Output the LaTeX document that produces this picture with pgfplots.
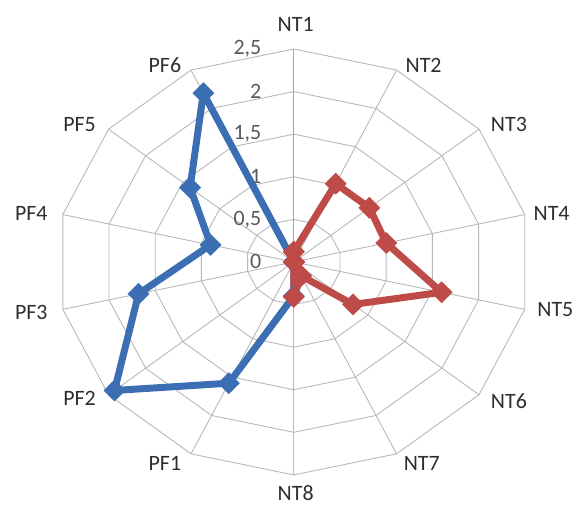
\documentclass[border=0pt]{standalone}
\usepackage{pgfplots}
\pgfplotsset{compat=1.18}
\usepackage{fontspec}
\setmainfont{Carlito}
\definecolor{serblue}{HTML}{3C6EB4}
\definecolor{serred}{HTML}{BE4B48}
\definecolor{gridc}{HTML}{B8B8B8}
\definecolor{labc}{HTML}{2E2E2E}
\newcommand{\ring}[1]{\addplot[gridc, line width=0.9pt, data cs=polar, no markers] coordinates {(90,#1) (64.2857,#1) (38.5714,#1) (12.8571,#1) (-12.8571,#1) (-38.5714,#1) (-64.2857,#1) (-90,#1) (-115.7143,#1) (-141.4286,#1) (-167.1429,#1) (167.1429,#1) (141.4286,#1) (115.7143,#1) (90,#1)};}
\begin{document}
\begin{tikzpicture}
\begin{axis}[
  scale only axis, width=580bp, height=509bp,
  xmin=-3.1, xmax=3.02, ymin=-2.9, ymax=3.075,
  hide axis, clip=false,
]
\ring{0.5}\ring{1}\ring{1.5}\ring{2}\ring{2.5}
\pgfplotsinvokeforeach{64.2857,38.5714,12.8571,-12.8571,-38.5714,-64.2857,-90,-115.7143,-141.4286,-167.1429,167.1429,141.4286,115.7143}{
  \addplot[gridc, line width=0.9pt, data cs=polar, no markers] coordinates {(#1,0) (#1,2.5)};
}
\addplot[gray!70, line width=1.4pt, data cs=polar, no markers] coordinates {(90,0) (90,2.5)};
% blue series
\addplot[serblue, line width=7pt, line join=round, data cs=polar, mark=square*, mark size=7.5pt,
  mark options={rotate=45, line width=0.5pt, fill=serblue}] coordinates {
 (90,0) (64.2857,0) (38.5714,0) (12.8571,0) (-12.8571,0) (-38.5714,0) (-64.2857,0) (-90,0.40)
 (-115.7143,1.58) (-141.4286,2.42) (-167.1429,1.68) (167.1429,0.90) (141.4286,1.40) (115.7143,2.20) (90,0)};
% red series
\addplot[serred, line width=7pt, line join=round, data cs=polar, mark=square*, mark size=7.5pt,
  mark options={rotate=45, line width=0.5pt, fill=serred}] coordinates {
 (90,0.12) (64.2857,1.02) (38.5714,1.02) (12.8571,1.00) (-12.8571,1.60) (-38.5714,0.80) (-64.2857,0.18) (-90,0.41)
 (-115.7143,0) (-141.4286,0) (-167.1429,0) (167.1429,0) (141.4286,0) (115.7143,0) (90,0.12)};
% category labels
\begin{scope}[every node/.style={font=\fontsize{22}{26}\selectfont, text=labc}]
\node at (axis cs:0.02,2.79) {NT1};
\node at (axis cs:1.37,2.31) {NT2};
\node at (axis cs:2.27,1.61) {NT3};
\node at (axis cs:2.72,0.575) {NT4};
\node at (axis cs:2.76,-0.56) {NT5};
\node at (axis cs:2.27,-1.64) {NT6};
\node at (axis cs:1.35,-2.36) {NT7};
\node at (axis cs:0.02,-2.71) {NT8};
\node at (axis cs:-1.36,-2.36) {PF1};
\node at (axis cs:-2.26,-1.60) {PF2};
\node at (axis cs:-2.77,-0.59) {PF3};
\node at (axis cs:-2.77,0.575) {PF4};
\node at (axis cs:-2.26,1.61) {PF5};
\node at (axis cs:-1.36,2.31) {PF6};
\end{scope}
% value tick labels
\begin{scope}[every node/.style={font=\fontsize{22}{26}\selectfont, text=black!65, anchor=east, inner sep=1pt}]
\node at (axis cs:-0.33,0) {0};
\node at (axis cs:-0.33,0.5) {0,5};
\node at (axis cs:-0.33,1) {1};
\node at (axis cs:-0.33,1.5) {1,5};
\node at (axis cs:-0.33,2) {2};
\node at (axis cs:-0.33,2.5) {2,5};
\end{scope}
\path (rel axis cs:0,0) rectangle (rel axis cs:1,1);
\end{axis}
\end{tikzpicture}
\end{document}
